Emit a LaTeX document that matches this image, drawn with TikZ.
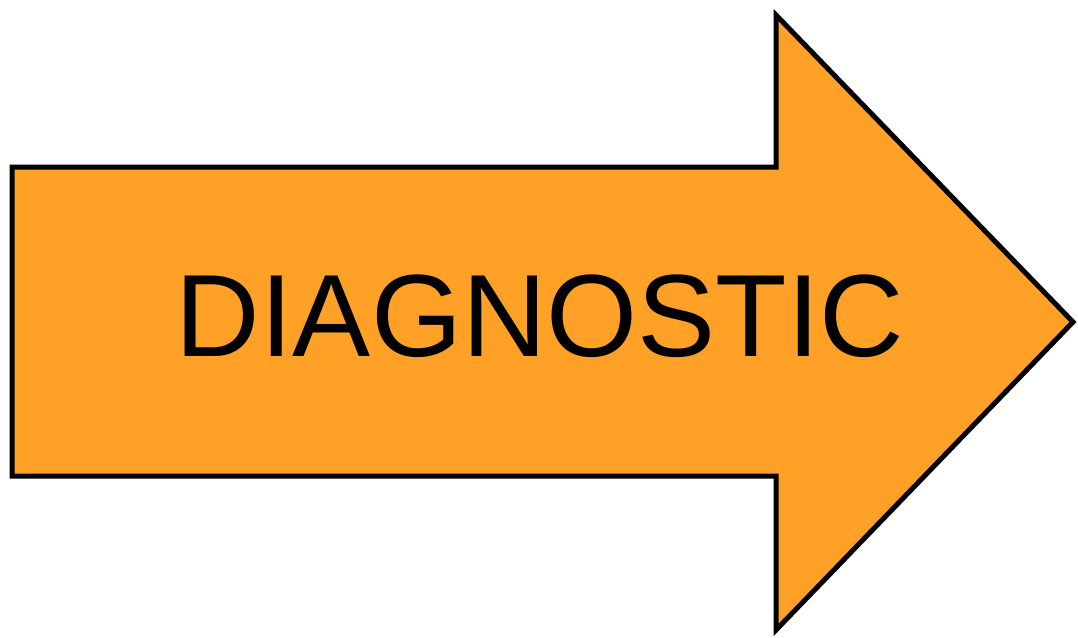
\documentclass[tikz,border=0pt]{standalone}
\usepackage{fontspec}
\setmainfont{Liberation Sans}
\definecolor{arroworange}{RGB}{254,161,38}
\begin{document}
\begin{tikzpicture}[x=1pt,y=-1pt,
  arrowshape/.style={fill=arroworange,draw=black,line width=5pt,line join=miter},
  label/.style={font=\fontsize{117}{120}\selectfont,text=black,inner sep=0pt,anchor=base}]
\useasboundingbox (0,0) rectangle (1078,637);
\draw[arrowshape] (12,167) -- (776,167) -- (776,15) -- (1073,322) -- (776,630) -- (776,476) -- (12,476) -- cycle;
\node[label] (t) at (540,356) {DIAGNOSTIC};
\end{tikzpicture}
\end{document}
